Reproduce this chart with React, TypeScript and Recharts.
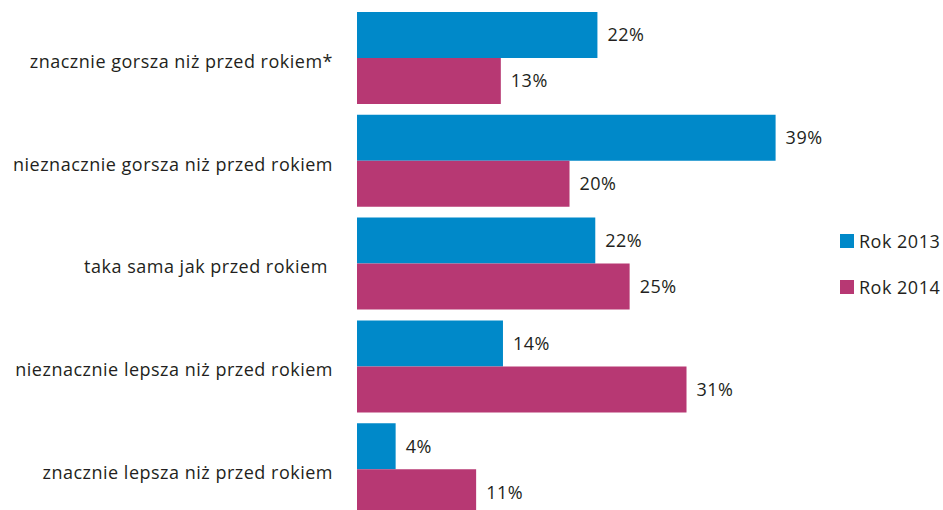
import { Bar, BarChart, LabelList, XAxis, YAxis } from "recharts";

const categories = [
  "znacznie gorsza niż przed rokiem*",
  "nieznacznie gorsza niż przed rokiem",
  "taka sama jak przed rokiem\u00a0",
  "nieznacznie lepsza niż przed rokiem",
  "znacznie lepsza niż przed rokiem",
];
// labels show them rounded
const rok2013 = [22.4, 39, 22.2, 13.6, 3.6];
const rok2014 = [13.4, 19.8, 25.4, 30.7, 11.1];

const SERIES = [
  { key: "rok2013", name: "Rok 2013", color: "#0089c9" },
  { key: "rok2014", name: "Rok 2014", color: "#b73873" },
];

const FONT = "'Open Sans', 'Noto Sans', sans-serif";
const TEXT = "#231f20";
const textStyle = { fontSize: 18, fill: TEXT, fontFamily: FONT, letterSpacing: 0.5 };

const data = categories.map((label, i) => ({
  label,
  rok2013: rok2013[i],
  rok2014: rok2014[i],
}));

function LegendBox() {
  return (
    <div
      style={{
        position: "absolute",
        left: 840,
        top: 218,
        fontFamily: FONT,
        fontSize: 18,
        letterSpacing: 0.5,
        color: TEXT,
      }}
    >
      {SERIES.map((s) => (
        <div key={s.key} style={{ display: "flex", alignItems: "center", height: 46 }}>
          <span style={{ width: 14, height: 14, background: s.color, marginRight: 5 }} />
          <span>{s.name}</span>
        </div>
      ))}
    </div>
  );
}

export default function App() {
  return (
    <div
      style={{
        position: "fixed",
        left: 0,
        top: 0,
        width: 943,
        height: 510,
        overflow: "hidden",
        background: "#fff",
      }}
    >
      <BarChart
        width={943}
        height={521}
        data={data}
        layout="vertical"
        margin={{ top: 7, right: 103, left: 0, bottom: 0 }}
        barGap={0}
        barSize={46}
      >
        <XAxis type="number" domain={[0, 45]} hide />
        <YAxis
          type="category"
          dataKey="label"
          width={357}
          axisLine={false}
          tickLine={false}
          tickMargin={18}
          tick={{ ...textStyle, dy: 3 }}
        />
        {SERIES.map((s) => (
          <Bar
            key={s.key}
            dataKey={s.key}
            name={s.name}
            fill={s.color}
            isAnimationActive={false}
          >
            <LabelList
              dataKey={s.key}
              position="right"
              offset={10}
              formatter={(v: number) => `${Math.round(v)}%`}
              style={textStyle}
            />
          </Bar>
        ))}
      </BarChart>
      <LegendBox />
    </div>
  );
}
